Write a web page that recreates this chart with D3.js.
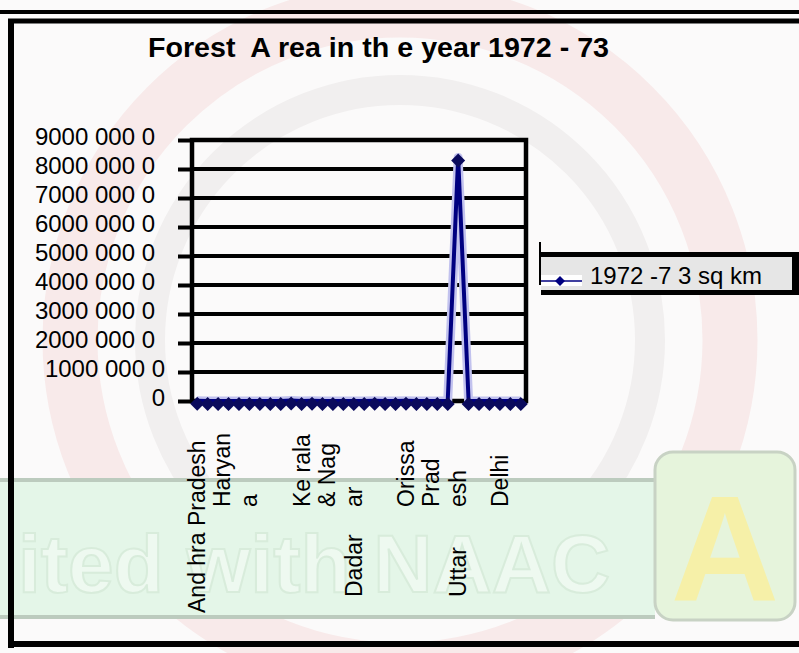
<!DOCTYPE html>
<html>
<head>
<meta charset="utf-8">
<script src="https://cdnjs.cloudflare.com/ajax/libs/d3/7.8.5/d3.min.js"></script>
<style>
  body { margin: 0; background: #ffffff; }
  svg { display: block; }
  text { font-family: "Liberation Sans", Arial, sans-serif; }
</style>
</head>
<body>
<svg id="chart" width="799" height="653"></svg>
<script>
// ---- data ----
const categories = [
  "Andhra Pradesh", "Assam", "Bihar", "Gujarat", "Goa", "Haryana",
  "Himachal Pradesh", "Jammu & Kashmir", "Karnataka", "Madhya Pradesh",
  "Kerala", "Maharashtra", "Manipur", "Meghalaya", "Nagaland",
  "Dadar & Nagar Haveli", "Mizoram", "Arunachal Pradesh", "Punjab",
  "Rajasthan", "Orissa", "Sikkim", "Tamil Nadu", "Tripura", "West Bengal",
  "Uttar Pradesh", "Andaman & Nicobar", "Chandigarh", "Lakshadweep",
  "Delhi", "Pondicherry", "Daman & Diu"
];
const areaSqKm = [
  63000, 30000, 29000, 19000, 1000, 1700,
  21000, 21000, 38000, 150000,
  11000, 61000, 15000, 8000, 2900,
  200, 7000, 51000, 2700,
  32000, 59000, 2600, 22000, 6000, 11800,
  84000000, 7100, 30, 0,
  40, 0, 0
];
const yTicks = [0, 10000000, 20000000, 30000000, 40000000, 50000000,
  60000000, 70000000, 80000000, 90000000];
const yTickLabels = ["0", "1000 000 0", "2000 000 0", "3000 000 0", "4000 000 0",
  "5000 000 0", "6000 000 0", "7000 000 0", "8000 000 0", "9000 000 0"];
const seriesName = "1972 -7 3 sq km";
const titleText = "Forest  A rea in th e year 1972 - 73";

// ---- layout ----
const W = 799, H = 653;
const plot = { left: 192, right: 526, top: 140, bottom: 401 };
const navy = "#000080";

const svg = d3.select("#chart");

// background (scanned watermark, roughly)
const bg = svg.append("g");
bg.append("rect").attr("width", W).attr("height", H).attr("fill", "#fbfafa");
bg.append("circle").attr("cx", 400).attr("cy", 340).attr("r", 330)
  .attr("fill", "none").attr("stroke", "#f8eaea").attr("stroke-width", 55);
bg.append("circle").attr("cx", 400).attr("cy", 340).attr("r", 250)
  .attr("fill", "none").attr("stroke", "#f1efef").attr("stroke-width", 30);
bg.append("rect").attr("x", 0).attr("y", 478).attr("width", 655).attr("height", 140)
  .attr("fill", "#e4f6e8");
bg.append("line").attr("x1", 0).attr("x2", 655).attr("y1", 480).attr("y2", 480)
  .attr("stroke", "#bccbbe").attr("stroke-width", 4);
bg.append("line").attr("x1", 0).attr("x2", 655).attr("y1", 617).attr("y2", 617)
  .attr("stroke", "#bccbbe").attr("stroke-width", 4);
bg.append("text").attr("x", 18).attr("y", 592)
  .attr("font-size", 82).attr("font-weight", "bold")
  .attr("fill", "#eef9f0").attr("stroke", "#d8ecdb").attr("stroke-width", 2)
  .text("ited with NAAC");
bg.append("rect").attr("x", 655).attr("y", 452).attr("width", 140).attr("height", 168)
  .attr("rx", 18).attr("fill", "#e6f4dc").attr("stroke", "#c8d2c4").attr("stroke-width", 3);
bg.append("text").attr("x", 725).attr("y", 600).attr("text-anchor", "middle")
  .attr("font-size", 150).attr("font-weight", "bold").attr("fill", "#f6f0a8")
  .text("A");

// outer frame
const frame = svg.append("g").attr("stroke", "#000");
frame.append("line").attr("x1", 0).attr("x2", W).attr("y1", 12).attr("y2", 12).attr("stroke-width", 4);
frame.append("line").attr("x1", 8).attr("x2", W).attr("y1", 21).attr("y2", 21).attr("stroke-width", 5);
frame.append("line").attr("x1", 11).attr("x2", 11).attr("y1", 19).attr("y2", 648).attr("stroke-width", 6);
frame.append("line").attr("x1", 8).attr("x2", W).attr("y1", 644).attr("y2", 644).attr("stroke-width", 6);

// title
svg.append("text")
  .attr("x", 148).attr("y", 57)
  .attr("font-size", 28).attr("font-weight", "bold")
  .attr("textLength", 461).attr("lengthAdjust", "spacingAndGlyphs")
  .style("white-space", "pre")
  .attr("fill", "#000")
  .text(titleText);

// scales
const x = d3.scalePoint().domain(categories)
  .range([plot.left, plot.right]).padding(0.5);
const y = d3.scaleLinear().domain([0, 90000000])
  .range([plot.bottom, plot.top]);

// gridlines
svg.append("g").selectAll("line").data(yTicks).join("line")
  .attr("x1", plot.left).attr("x2", plot.right)
  .attr("y1", d => y(d)).attr("y2", d => y(d))
  .attr("stroke", "#000").attr("stroke-width", 4);

// y axis
const yAxis = svg.append("g")
  .attr("transform", `translate(${plot.left},0)`)
  .call(d3.axisLeft(y).tickValues(yTicks).tickSize(14)
    .tickFormat((d, i) => yTickLabels[i]));
yAxis.select(".domain").remove();
yAxis.selectAll(".tick line").attr("stroke", "#000").attr("stroke-width", 4);
yAxis.selectAll(".tick text")
  .attr("font-size", 24).attr("fill", "#000")
  .attr("font-family", "'Liberation Sans', Arial, sans-serif")
  .attr("x", d => d <= 10000000 ? -27 : -37)
  .attr("dy", "0.2em");

// plot border
svg.append("rect")
  .attr("x", plot.left).attr("y", plot.top)
  .attr("width", plot.right - plot.left).attr("height", plot.bottom - plot.top)
  .attr("fill", "none").attr("stroke", "#000").attr("stroke-width", 4.5);

// series line
const line = d3.line()
  .x((d, i) => x(categories[i]))
  .y(d => y(d));
svg.append("path").datum(areaSqKm)
  .attr("d", line).attr("fill", "none")
  .attr("stroke", "#c2c2ee").attr("stroke-width", 9).attr("stroke-linejoin", "round");
svg.append("path").datum(areaSqKm)
  .attr("d", line).attr("fill", "none")
  .attr("stroke", navy).attr("stroke-width", 4).attr("stroke-linejoin", "round");

const diamond = r => `M0,${-r}L${r},0L0,${r}L${-r},0Z`;
svg.append("g").selectAll("path").data(areaSqKm).join("path")
  .attr("transform", (d, i) => `translate(${x(categories[i])},${y(d) + 3})`)
  .attr("d", diamond(7))
  .attr("fill", "#0a0a5c");

// x tick labels: fragments as they sit in the picture (col = line offset)
const xLabelLayout = [
  { cat: "Andhra Pradesh", text: "And hra Pradesh", col: 0, start: 613 },
  { cat: "Haryana", text: "Haryan", col: -1, start: 507 },
  { cat: "Haryana", text: "a", col: 0, start: 507 },
  { cat: "Kerala", text: "Ke rala", col: 0, start: 507 },
  { cat: "Dadar & Nagar Haveli", text: "& Nag", col: -1, start: 507 },
  { cat: "Dadar & Nagar Haveli", text: "ar", col: 0, start: 507 },
  { cat: "Dadar & Nagar Haveli", text: "Dadar", col: 0, start: 597 },
  { cat: "Orissa", text: "Orissa", col: 0, start: 507 },
  { cat: "Uttar Pradesh", text: "Prad", col: -1, start: 507 },
  { cat: "Uttar Pradesh", text: "esh", col: 0, start: 507 },
  { cat: "Uttar Pradesh", text: "Uttar", col: 0, start: 597 },
  { cat: "Delhi", text: "Delhi", col: 0, start: 507 }
];
svg.append("g").selectAll("text").data(xLabelLayout).join("text")
  .attr("transform", d => `translate(${x(d.cat) + d.col * 27 + 8},${d.start}) rotate(-90)`)
  .attr("font-size", 23).attr("fill", "#000")
  .text(d => d.text);

// legend
const lg = svg.append("g");
lg.append("rect").attr("x", 541).attr("y", 255).attr("width", 258).attr("height", 37)
  .attr("fill", "#e6e6e6");
lg.append("line").attr("x1", 541).attr("x2", W).attr("y1", 254.5).attr("y2", 254.5)
  .attr("stroke", "#000").attr("stroke-width", 5);
lg.append("line").attr("x1", 541).attr("x2", W).attr("y1", 292.5).attr("y2", 292.5)
  .attr("stroke", "#000").attr("stroke-width", 5);
lg.append("line").attr("x1", 795.5).attr("x2", 795.5).attr("y1", 252).attr("y2", 295)
  .attr("stroke", "#000").attr("stroke-width", 7);
lg.append("line").attr("x1", 540).attr("x2", 540).attr("y1", 242).attr("y2", 285)
  .attr("stroke", "#000").attr("stroke-width", 2);
lg.append("rect").attr("x", 541).attr("y", 275).attr("width", 41).attr("height", 11)
  .attr("fill", "#ffffff");
lg.append("line").attr("x1", 541).attr("x2", 582).attr("y1", 281).attr("y2", 281)
  .attr("stroke", navy).attr("stroke-width", 1.5);
lg.append("path").attr("transform", "translate(560,281)")
  .attr("d", diamond(5)).attr("fill", navy);
lg.append("text").attr("x", 590).attr("y", 283.5)
  .attr("font-size", 24).attr("fill", "#000")
  .text(seriesName);
</script>
</body>
</html>
